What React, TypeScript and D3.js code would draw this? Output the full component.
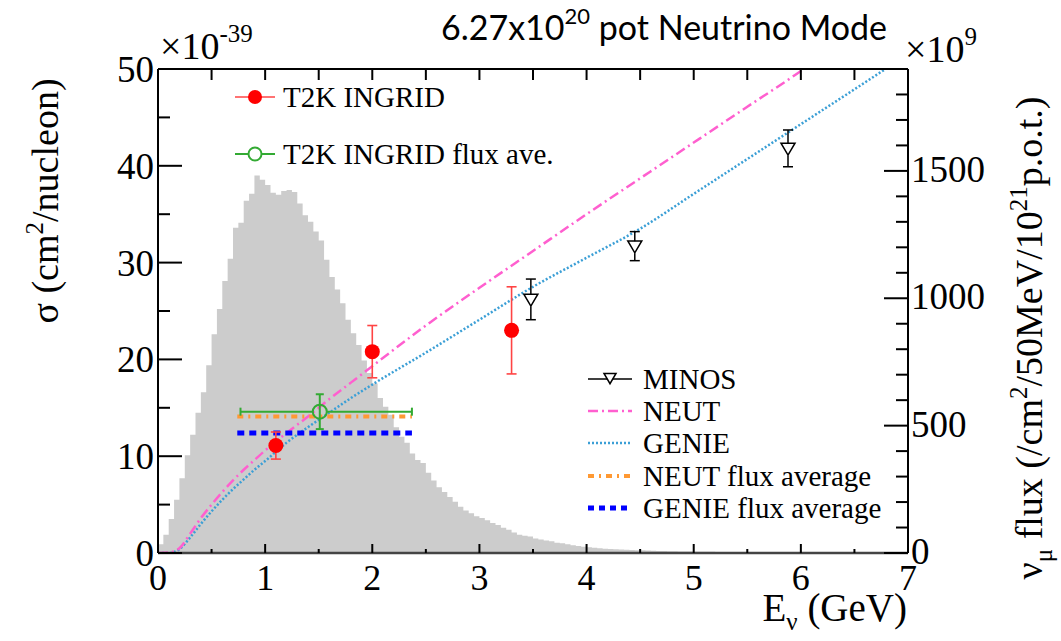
import React from 'react';
import * as d3 from 'd3';

// ---------- data ----------
const fluxBinWidthGeV = 0.05;
// nu_mu flux per 50 MeV bin (x10^9 /cm^2/50MeV/10^21 p.o.t.), bins start at 0 GeV
const fluxPerBin = [
  34, 72, 133, 209, 293, 384, 464, 551, 631, 737,
  859, 958, 1068, 1155, 1277, 1296, 1383, 1410, 1482, 1465,
  1445, 1414, 1406, 1421, 1425, 1417, 1372, 1326, 1300, 1262,
  1227, 1151, 1083, 1034, 980, 916, 863, 817, 756, 707,
  665, 608, 574, 543, 494, 456, 433, 391, 365, 353,
  315, 285, 258, 239, 220, 201, 182, 167, 156, 144,
  137, 129, 118, 110, 99, 91, 80, 72, 68, 65,
  57, 53, 49, 46, 40, 38, 34, 30, 27, 25,
  23, 21, 19, 17, 16, 15, 14, 13, 12, 11,
  11, 10, 9, 8, 8, 7, 7, 6, 6, 6,
  5, 5, 5, 5, 4, 4, 4, 4, 4, 4,
  3, 3, 3, 3, 3, 3, 3, 3, 2, 2,
  2, 2, 2, 2, 2, 2, 2, 1, 1, 1,
  1, 1, 1, 1, 1, 1, 1, 1, 1, 1,
];

// NEUT prediction (E GeV, sigma 1e-39 cm^2/nucleon)
const neutEnergy = [0.0, 0.1, 0.2, 0.3, 0.4, 0.5, 0.6, 0.7, 0.8, 0.9, 1.0, 1.2, 1.4, 1.6, 1.8, 2.0, 2.5, 3.0, 3.5, 4.0, 4.5, 5.0, 5.5, 6.0, 6.1];
const neutXsec = [0.0, 0.05, 0.5, 2.0, 3.6, 5.0, 6.3, 7.5, 8.6, 9.6, 10.6, 12.4, 14.1, 15.9, 17.6, 19.3, 23.5, 27.4, 31.2, 35.0, 38.7, 42.4, 46.1, 49.8, 50.6];

// GENIE prediction
const genieEnergy = [0.0, 0.1, 0.2, 0.3, 0.4, 0.5, 0.6, 0.7, 0.8, 0.9, 1.0, 1.2, 1.4, 1.6, 1.8, 2.0, 2.5, 3.0, 3.5, 4.0, 4.5, 5.0, 5.5, 6.0, 6.5, 6.9];
const genieXsec = [0.0, 0.0, 0.4, 1.6, 3.0, 4.3, 5.5, 6.6, 7.6, 8.6, 9.5, 11.4, 13.0, 14.5, 16.0, 17.4, 20.7, 24.1, 27.5, 30.5, 33.5, 37.1, 40.7, 44.3, 47.9, 50.8];

// T2K INGRID measurements
const ingridEnergy = [1.1, 2.0, 3.3];
const ingridXsec = [11.1, 20.8, 23.0];
const ingridErr = [1.4, 2.7, 4.5];

// T2K INGRID flux-averaged
const fluxAveEnergy = [1.51];
const fluxAveXsec = [14.6];
const fluxAveErr = [1.8];
const fluxAveRange = [0.77, 2.37];

// flux-averaged predictions
const neutFluxAveXsec = 14.1;
const genieFluxAveXsec = 12.4;
const fluxAvePredRange = [0.74, 2.37];

// MINOS
const minosEnergy = [3.48, 4.45, 5.88];
const minosXsec = [26.2, 31.7, 41.8];
const minosErr = [2.1, 1.5, 1.9];

// axes
const xTicks = [0, 1, 2, 3, 4, 5, 6, 7];
const yTicks = [0, 10, 20, 30, 40, 50];
const yRightTicks = [0, 500, 1000, 1500];

const legendTop = ['T2K INGRID', 'T2K INGRID flux ave.'];
const legendBottom = ['MINOS', 'NEUT', 'GENIE', 'NEUT flux average', 'GENIE flux average'];

const SERIF = 'Liberation Serif';
const SANS = 'Lato';

const C = {
  hist: '#cccccc',
  neut: '#ff5fcf',
  genie: '#3b9fd6',
  neutAve: '#ff9933',
  genieAve: '#0000ff',
  red: '#ff0000',
  redBar: '#ff4444',
  green: '#33aa33',
};

export default function App() {
  const W = 1061;
  const H = 641;
  const x = d3.scaleLinear().domain([0, 7]).range([158, 908]);
  const y = d3.scaleLinear().domain([0, 50]).range([553, 69]);
  const yR = d3.scaleLinear().domain([0, 1900]).range([553, 69]);
  const [x0, x1] = x.range();
  const [y0, y1] = y.range();

  const histPts: [number, number][] = fluxPerBin.map((v, i) => [i * fluxBinWidthGeV, v]);
  histPts.push([fluxPerBin.length * fluxBinWidthGeV, fluxPerBin[fluxPerBin.length - 1]]);
  const histArea = d3
    .area<[number, number]>()
    .x((d) => x(d[0]))
    .y0(yR(0))
    .y1((d) => yR(d[1]))
    .curve(d3.curveStepAfter);

  const line = d3
    .line<[number, number]>()
    .x((d) => x(d[0]))
    .y((d) => y(d[1]))
    .curve(d3.curveMonotoneX);
  const neutPath = line(neutEnergy.map((e, i) => [e, neutXsec[i]]));
  const geniePath = line(genieEnergy.map((e, i) => [e, genieXsec[i]]));

  const xMinor = d3.range(0.5, 7, 1);
  const xTop = d3.range(0.5, 7, 0.5);
  const yMinor = d3.range(5, 50, 10);
  const yRMinor = d3.range(100, 1900, 100).filter((v) => v % 500 !== 0);

  const tri = (cx: number, cy: number, s: number) =>
    `M${cx - s},${cy - s * 0.75} L${cx + s},${cy - s * 0.75} L${cx},${cy + s * 0.95} Z`;

  const legX0 = 588;
  const legX1 = 632;
  const legRows = [379, 411, 443, 476, 508];

  return (
    <svg width={W} height={H} style={{ position: 'absolute', left: 0, top: 0, background: '#fff' }}>
      <defs>
        <clipPath id="plotClip">
          <rect x={x0} y={y1} width={x1 - x0} height={y0 - y1} />
        </clipPath>
      </defs>
      <rect x={0} y={0} width={W} height={H} fill="#fff" />

      {/* top title */}
      <text x={441} y={40} fontFamily={SANS} fontSize={34} fill="#000">
        6.27x10
        <tspan dy={-16} fontSize={22}>20</tspan>
        <tspan dy={16}> pot Neutrino Mode</tspan>
      </text>

      {/* histogram */}
      <path d={histArea(histPts) || ''} fill={C.hist} stroke="none" clipPath="url(#plotClip)" />

      {/* prediction curves */}
      <g clipPath="url(#plotClip)" fill="none">
        <path d={geniePath || ''} stroke={C.genie} strokeWidth={2.5} strokeDasharray="2,2" />
        <path d={neutPath || ''} stroke={C.neut} strokeWidth={2.5} strokeDasharray="10,4,2,4" />
      </g>

      {/* flux-averaged predictions */}
      <line x1={x(fluxAvePredRange[0])} x2={x(fluxAvePredRange[1])} y1={y(neutFluxAveXsec)} y2={y(neutFluxAveXsec)}
        stroke={C.neutAve} strokeWidth={4} strokeDasharray="6,5,2,5" />
      <line x1={x(fluxAvePredRange[0])} x2={x(fluxAvePredRange[1])} y1={y(genieFluxAveXsec)} y2={y(genieFluxAveXsec)}
        stroke={C.genieAve} strokeWidth={5} strokeDasharray="7,5" />

      {/* flux-averaged measurement */}
      {fluxAveEnergy.map((e, i) => {
        const cx = x(e);
        const cy = y(fluxAveXsec[i]);
        const xa = x(fluxAveRange[0]);
        const xb = x(fluxAveRange[1]);
        const ya = y(fluxAveXsec[i] + fluxAveErr[i]);
        const yb = y(fluxAveXsec[i] - fluxAveErr[i]);
        return (
          <g key={'fa' + i} stroke={C.green} strokeWidth={2} fill="none">
            <line x1={xa} x2={cx - 7} y1={cy} y2={cy} />
            <line x1={cx + 7} x2={xb} y1={cy} y2={cy} />
            <line x1={xa} x2={xa} y1={cy - 4} y2={cy + 4} />
            <line x1={xb} x2={xb} y1={cy - 4} y2={cy + 4} />
            <line x1={cx} x2={cx} y1={ya} y2={yb} />
            <line x1={cx - 4} x2={cx + 4} y1={ya} y2={ya} />
            <line x1={cx - 4} x2={cx + 4} y1={yb} y2={yb} />
            <circle cx={cx} cy={cy} r={7} />
          </g>
        );
      })}

      {/* INGRID points */}
      {ingridEnergy.map((e, i) => {
        const cx = x(e);
        const cy = y(ingridXsec[i]);
        const ya = y(ingridXsec[i] + ingridErr[i]);
        const yb = y(ingridXsec[i] - ingridErr[i]);
        return (
          <g key={'in' + i}>
            <g stroke={C.redBar} strokeWidth={1.6}>
              <line x1={cx} x2={cx} y1={ya} y2={yb} />
              <line x1={cx - 5} x2={cx + 5} y1={ya} y2={ya} />
              <line x1={cx - 5} x2={cx + 5} y1={yb} y2={yb} />
            </g>
            <circle cx={cx} cy={cy} r={7.5} fill={C.red} />
          </g>
        );
      })}

      {/* MINOS points */}
      {minosEnergy.map((e, i) => {
        const cx = x(e);
        const cy = y(minosXsec[i]);
        const ya = y(minosXsec[i] + minosErr[i]);
        const yb = y(minosXsec[i] - minosErr[i]);
        return (
          <g key={'mi' + i} stroke="#000" strokeWidth={1.5} fill="none">
            <line x1={cx} x2={cx} y1={ya} y2={cy - 5} />
            <line x1={cx} x2={cx} y1={cy + 7} y2={yb} />
            <line x1={cx - 5} x2={cx + 5} y1={ya} y2={ya} />
            <line x1={cx - 5} x2={cx + 5} y1={yb} y2={yb} />
            <path d={tri(cx, cy, 7)} />
          </g>
        );
      })}

      {/* frame */}
      <g stroke="#000" strokeWidth={2} fill="none">
        <line x1={x0} x2={x1} y1={y1} y2={y1} />
        <line x1={x0} x2={x0} y1={y1} y2={y0} />
        <line x1={x1} x2={x1} y1={y1} y2={y0} />
      </g>
      <line x1={x0} x2={x1} y1={y0} y2={y0} stroke="#444" strokeWidth={2.5} />

      {/* ticks */}
      <g stroke="#000" strokeWidth={2}>
        {yTicks.map((t) => (
          <line key={'yt' + t} x1={x0} x2={x0 + 24} y1={y(t)} y2={y(t)} />
        ))}
        {yMinor.map((t) => (
          <line key={'ym' + t} x1={x0} x2={x0 + 12} y1={y(t)} y2={y(t)} />
        ))}
        {yRightTicks.map((t) => (
          <line key={'rt' + t} x1={x1} x2={x1 - 24} y1={yR(t)} y2={yR(t)} />
        ))}
        {yRMinor.map((t) => (
          <line key={'rm' + t} x1={x1} x2={x1 - 12} y1={yR(t)} y2={yR(t)} />
        ))}
        {xTop.map((t) => (
          <line key={'xt' + t} x1={x(t)} x2={x(t)} y1={y1} y2={y1 + 11} />
        ))}
        {xTicks.map((t) => (
          <line key={'xb' + t} x1={x(t)} x2={x(t)} y1={y0} y2={y0 - 9} />
        ))}
        {xMinor.map((t) => (
          <line key={'xm' + t} x1={x(t)} x2={x(t)} y1={y0} y2={y0 - 4} />
        ))}
      </g>

      {/* tick labels */}
      <g fill="#000">
        {yTicks.map((t) => (
          <text key={'yl' + t} x={x0 - 4} y={y(t)} dy="0.35em" textAnchor="end" fontFamily={SERIF} fontSize={37}>{t}</text>
        ))}
        {xTicks.map((t) => (
          <text key={'xl' + t} x={x(t)} y={y0 + 37} textAnchor="middle" fontFamily={SERIF} fontSize={36}>{t}</text>
        ))}
        {yRightTicks.map((t) => (
          <text key={'rl' + t} x={x1 + 3} y={yR(t) - 2} dy="0.35em" textAnchor="start" fontFamily={SERIF} fontSize={37}>{t}</text>
        ))}
      </g>

      {/* exponents */}
      <text x={160} y={59} fontFamily={SERIF} fontSize={38}>
        ×10<tspan dy={-17} fontSize={25}>-39</tspan>
      </text>
      <text x={905} y={62} fontFamily={SERIF} fontSize={38}>
        ×10<tspan dy={-17} fontSize={25}>9</tspan>
      </text>

      {/* axis titles */}
      <text transform="translate(58,201) rotate(-90)" textAnchor="middle" fontFamily={SERIF} fontSize={38}>
        σ (cm<tspan dy={-15} fontSize={25}>2</tspan><tspan dy={15}>/nucleon)</tspan>
      </text>
      <text transform="translate(1042,338) rotate(-90)" textAnchor="middle" fontFamily={SERIF} fontSize={38}>
        ν<tspan dy={10} fontSize={25}>μ</tspan>
        <tspan dy={-10}> flux (/cm</tspan>
        <tspan dy={-15} fontSize={25}>2</tspan>
        <tspan dy={15}>/50MeV/10</tspan>
        <tspan dy={-15} fontSize={25}>21</tspan>
        <tspan dy={15}>p.o.t.)</tspan>
      </text>
      <text x={907} y={621} textAnchor="end" fontFamily={SERIF} fontSize={39}>
        E<tspan dy={9} fontSize={25}>ν</tspan><tspan dy={-9}> (GeV)</tspan>
      </text>

      {/* top-left legend */}
      <g>
        <line x1={235} x2={275} y1={97} y2={97} stroke={C.redBar} strokeWidth={1.6} />
        <circle cx={255} cy={97} r={7} fill={C.red} />
        <text x={283} y={107} fontFamily={SERIF} fontSize={29}>{legendTop[0]}</text>
        <g stroke={C.green} strokeWidth={2} fill="none">
          <line x1={235} x2={248} y1={154} y2={154} />
          <line x1={262} x2={275} y1={154} y2={154} />
          <circle cx={255} cy={154} r={6.5} />
        </g>
        <text x={283} y={164} fontFamily={SERIF} fontSize={29}>{legendTop[1]}</text>
      </g>

      {/* bottom-right legend */}
      <g>
        <line x1={legX0} x2={legX1} y1={legRows[0]} y2={legRows[0]} stroke="#000" strokeWidth={1.5} />
        <path d={tri((legX0 + legX1) / 2, legRows[0] - 1, 6)} fill="#fff" stroke="#000" strokeWidth={1.5} />
        <line x1={legX0} x2={legX1} y1={legRows[1]} y2={legRows[1]} stroke={C.neut} strokeWidth={2.5} strokeDasharray="10,4,2,4" />
        <line x1={legX0} x2={legX1} y1={legRows[2]} y2={legRows[2]} stroke={C.genie} strokeWidth={2.5} strokeDasharray="2,2" />
        <line x1={legX0} x2={legX1} y1={legRows[3]} y2={legRows[3]} stroke={C.neutAve} strokeWidth={4} strokeDasharray="6,5,2,5" />
        <line x1={legX0} x2={legX1} y1={legRows[4]} y2={legRows[4]} stroke={C.genieAve} strokeWidth={5} strokeDasharray="6,5" />
        {legendBottom.map((s, i) => (
          <text key={'lb' + i} x={643} y={legRows[i] + 10} fontFamily={SERIF} fontSize={29}>{s}</text>
        ))}
      </g>
    </svg>
  );
}
